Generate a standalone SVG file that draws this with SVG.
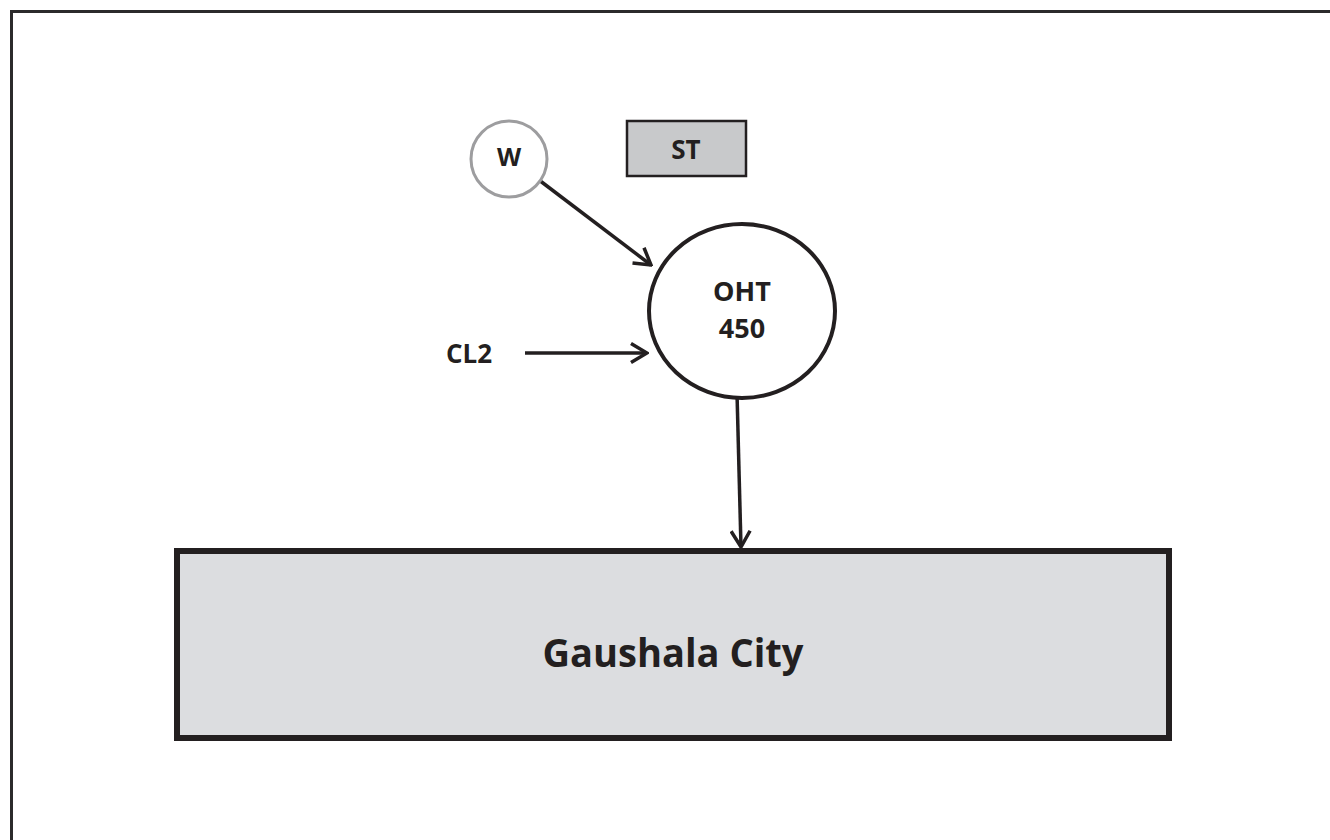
<svg xmlns="http://www.w3.org/2000/svg" width="1330" height="840" viewBox="0 0 1330 840">
  <style>
    .lbl { font-family: "Open Sans", "Noto Sans", "Liberation Sans", sans-serif; font-weight: 700; fill: #231f20; text-anchor: middle; }
    .flow { stroke: #231f20; stroke-width: 3.5; fill: none; }
  </style>
  <defs>
    <marker id="chev" viewBox="0 0 22 22" refX="20" refY="11" markerWidth="22" markerHeight="22" markerUnits="userSpaceOnUse" orient="auto">
      <path d="M4,1.5 L20,11 L4,20.5" fill="none" stroke="#231f20" stroke-width="3.5" stroke-linecap="butt" stroke-linejoin="miter"/>
    </marker>
  </defs>
  <rect width="1330" height="840" fill="#ffffff"/>
  <!-- frame -->
  <rect x="11.5" y="11.5" width="1340" height="850" fill="none" stroke="#2b2a2b" stroke-width="3"/>

  <g id="connectors">
    <line class="flow" x1="539" y1="180" x2="651" y2="265" marker-end="url(#chev)"/>
    <line class="flow" x1="525" y1="353" x2="647" y2="353" marker-end="url(#chev)"/>
    <line class="flow" x1="737" y1="393" x2="741" y2="547" marker-end="url(#chev)"/>
  </g>

  <g id="node-w">
    <circle cx="509" cy="159" r="38" fill="#ffffff" stroke="#9d9d9f" stroke-width="3"/>
    <text class="lbl" x="509" y="166" font-size="25">W</text>
  </g>

  <g id="node-st">
    <rect x="627" y="121" width="119" height="55" fill="#c8c9cb" stroke="#231f20" stroke-width="2.5"/>
    <text class="lbl" x="686" y="159" font-size="26">ST</text>
  </g>

  <g id="node-oht">
    <ellipse cx="742" cy="311" rx="93" ry="87" fill="#ffffff" stroke="#231f20" stroke-width="4"/>
    <text class="lbl" x="742" y="301" font-size="27">OHT</text>
    <text class="lbl" x="742" y="338" font-size="27">450</text>
  </g>

  <g id="node-cl2">
    <text class="lbl" x="469" y="363" font-size="26">CL2</text>
  </g>

  <g id="node-city">
    <rect x="177" y="551" width="992" height="187" fill="#dcdde0" stroke="#231f20" stroke-width="6"/>
    <text class="lbl" x="673" y="667" font-size="40" textLength="261" lengthAdjust="spacingAndGlyphs">Gaushala City</text>
  </g>
</svg>
